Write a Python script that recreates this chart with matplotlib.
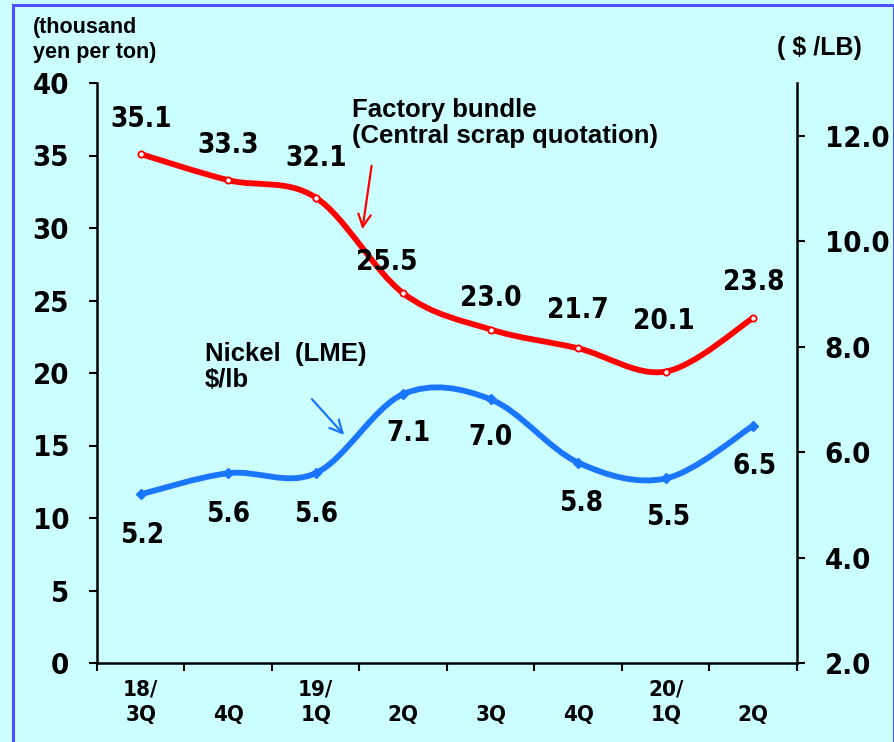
import matplotlib
matplotlib.use("Agg")
import matplotlib.pyplot as plt
from matplotlib.path import Path
from matplotlib.patches import PathPatch, Rectangle
from matplotlib import font_manager
import numpy as np

# ---- data ----
quarters = ["18/\n3Q", "\n4Q", "19/\n1Q", "\n2Q", "\n3Q", "\n4Q", "20/\n1Q", "\n2Q"]
scrap_price = [35.1, 33.3, 32.1, 25.5, 23.0, 21.7, 20.1, 23.8]   # thousand yen per ton
nickel_price = [5.2, 5.6, 5.6, 7.1, 7.0, 5.8, 5.5, 6.5]          # $/lb
left_ticks = [0, 5, 10, 15, 20, 25, 30, 35, 40]
right_ticks = [2.0, 4.0, 6.0, 8.0, 10.0, 12.0]

BG = "#CCFFFF"
RED = "#FF0000"
BLUE = "#1A75FF"

# narrow face for the numbers, if one is installed
_names = {f.name for f in font_manager.fontManager.ttflist}
_cond = [f for f in font_manager.fontManager.ttflist
         if f.name == "DejaVu Sans" and "ondensed" in str(f.stretch) + f.fname]
if "Liberation Sans Narrow" in _names:
    NUM_FONT = dict(family="Liberation Sans Narrow")
elif _cond:
    NUM_FONT = dict(family="DejaVu Sans", fontstretch="condensed")
else:
    NUM_FONT = dict(family="Liberation Sans")
TXT_FONT = dict(family="Liberation Sans")


def smooth_path(xs, ys):
    """Bezier path through the points (Catmull-Rom style smoothing)."""
    pts = np.column_stack([xs, ys]).astype(float)
    n = len(pts)
    verts = [pts[0]]
    codes = [Path.MOVETO]
    for i in range(n - 1):
        p0 = pts[i - 1] if i > 0 else pts[i]
        p1 = pts[i]
        p2 = pts[i + 1]
        p3 = pts[i + 2] if i + 2 < n else pts[i + 1]
        c1 = p1 + (p2 - p0) / 6.0
        c2 = p2 - (p3 - p1) / 6.0
        verts += [c1, c2, p2]
        codes += [Path.CURVE4] * 3
    return Path(verts, codes)


fig = plt.figure(figsize=(8.95, 7.42), dpi=100, facecolor=BG)
ax = fig.add_axes([97 / 895, 1 - 663 / 742, 700 / 895, 580 / 742])
ax.set_facecolor(BG)
ax2 = ax.twinx()

x = np.arange(len(quarters))

# left axis: scrap
ax.set_xlim(-0.5, len(quarters) - 0.5)
ax.set_ylim(0, 40)
ax.set_yticks(left_ticks)
ax.set_yticklabels([str(v) for v in left_ticks], fontsize=21, fontweight="bold", **NUM_FONT)
ax.set_xticks(np.arange(-0.5, len(quarters), 1.0))
ax.set_xticklabels([])
ax.set_xticks(x, minor=True)
ax.set_xticklabels(quarters, minor=True, fontsize=16, fontweight="bold",
                   linespacing=1.35, **NUM_FONT)
ax.tick_params(axis="x", which="minor", length=0, pad=12)
ax.tick_params(axis="x", which="major", direction="out", length=6, width=1.5)
ax.tick_params(axis="y", direction="out", length=6, width=1.5, pad=14)

# right axis: nickel
ax2.set_ylim(2, 13)
ax2.set_yticks(right_ticks)
ax2.set_yticklabels([f"{v:.1f}" for v in right_ticks], fontsize=21, fontweight="bold",
                    **NUM_FONT)
ax2.tick_params(axis="y", direction="out", length=6, width=1.5, pad=14)

for a in (ax, ax2):
    a.spines["top"].set_visible(False)
    for s in ("left", "right", "bottom"):
        a.spines[s].set_linewidth(1.8)
ax.spines["right"].set_visible(False)
ax2.spines["left"].set_visible(False)
ax2.spines["bottom"].set_visible(False)

# smoothed lines
ax.add_patch(PathPatch(smooth_path(x, scrap_price), facecolor="none", edgecolor=RED,
                       lw=4.2, capstyle="round", joinstyle="round", zorder=3))
ax.plot(x, scrap_price, linestyle="none", marker="o", markersize=4.5,
        markerfacecolor="white", markeredgecolor=RED, markeredgewidth=1.3, zorder=4)

ax2.add_patch(PathPatch(smooth_path(x, nickel_price), facecolor="none", edgecolor=BLUE,
                        lw=4.2, capstyle="round", joinstyle="round", zorder=3))
ax2.plot(x, nickel_price, linestyle="none", marker="D", markersize=5.5,
         color=BLUE, zorder=4)

# value labels
scrap_offsets = [(0, 35), (0, 35), (0, 40), (-16, 31), (0, 32), (0, 38), (-2, 51), (0, 36)]
for xi, v, off in zip(x, scrap_price, scrap_offsets):
    ax.annotate(f"{v:.1f}", (xi, v), xytext=off, textcoords="offset pixels",
                ha="center", va="center", fontsize=20, fontweight="bold",
                zorder=5, **NUM_FONT)

nickel_offsets = [(1, -41), (0, -41), (0, -41), (5, -39), (0, -38), (3, -40), (2, -39), (1, -40)]
for xi, v, off in zip(x, nickel_price, nickel_offsets):
    ax2.annotate(f"{v:.1f}", (xi, v), xytext=off, textcoords="offset pixels",
                 ha="center", va="center", fontsize=20, fontweight="bold",
                 zorder=5, **NUM_FONT)

# series captions with arrows
fig.text(352 / 895, 1 - 123 / 742, "Factory bundle\n(Central scrap quotation)",
         fontsize=18.5, fontweight="bold", ha="left", va="center",
         linespacing=1.15, **TXT_FONT)
ax.annotate("", xy=(362, 742 - 232), xycoords="figure pixels",
            xytext=(372, 742 - 163), textcoords="figure pixels",
            arrowprops=dict(arrowstyle="->,head_length=0.9,head_width=0.45",
                            color=RED, lw=1.6))

fig.text(205 / 895, 1 - 367 / 742, "Nickel  (LME)\n$/lb",
         fontsize=18.5, fontweight="bold", ha="left", va="center",
         linespacing=1.15, **TXT_FONT)
ax.annotate("", xy=(346, 742 - 437), xycoords="figure pixels",
            xytext=(310, 742 - 397), textcoords="figure pixels",
            arrowprops=dict(arrowstyle="->,head_length=0.9,head_width=0.45",
                            color=BLUE, lw=1.6))

# axis unit captions
fig.text(33 / 895, 1 - 40 / 742, "(thousand\nyen per ton)", fontsize=15.5,
         fontweight="bold", ha="left", va="center", linespacing=1.2, **TXT_FONT)
fig.text(819 / 895, 1 - 48 / 742, "( $ /LB)", fontsize=18,
         fontweight="bold", ha="center", va="center", **TXT_FONT)

# figure frame
fig.patches.append(Rectangle((13 / 895, -0.01), (894 - 13) / 895, 1 - 5 / 742 + 0.01,
                             transform=fig.transFigure, fill=False,
                             edgecolor="#4F4FFF", lw=2.2))

fig.savefig("out.png", dpi=100, facecolor=BG)
